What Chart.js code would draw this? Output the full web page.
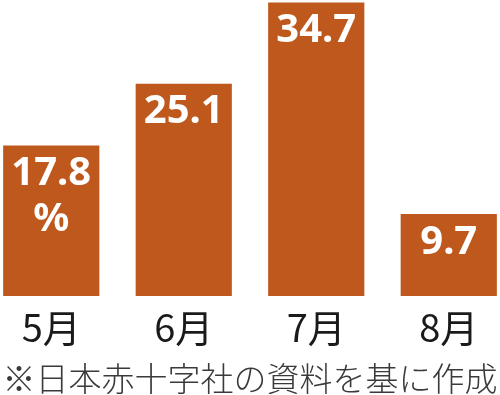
<!DOCTYPE html>
<html lang="ja">
<head>
<meta charset="utf-8">
<title>献血 推移</title>
<script src="https://cdn.jsdelivr.net/npm/chart.js@4"></script>
<style>
  html, body { margin: 0; padding: 0; background: #fff; }
  #wrap { width: 500px; height: 395px; position: relative; overflow: hidden; }
  /* 棒を端まで寄せるため少し広く描いて左右をはみ出させる */
  #inner { position: absolute; left: -15px; top: 0; width: 530px; height: 395px; }
</style>
</head>
<body>
<div id="wrap"><div id="inner"><canvas id="chartMonth"></canvas></div></div>
<script>
/* ── データ ── */
const months = ['5月', '6月', '7月', '8月'];
const rates = [17.8, 25.1, 34.7, 9.7];
const rateLabels = [['17.8', '%'], ['25.1'], ['34.7'], ['9.7']];
const sourceNote = '※日本赤十字社の資料を基に作成';

const BAR_COLOR = '#BF581C';
const LABEL_SIZE = 40;

/* ── 棒の中に数値を白で描く ── */
const innerLabels = {
  id: 'innerLabels',
  afterDatasetsDraw(chart) {
    const ctx = chart.ctx;
    const meta = chart.getDatasetMeta(0);
    ctx.save();
    ctx.fillStyle = '#fff';
    ctx.font = `bold ${LABEL_SIZE}px "Noto Sans", sans-serif`;
    ctx.textAlign = 'center';
    ctx.textBaseline = 'alphabetic';
    meta.data.forEach((bar, i) => {
      rateLabels[i].forEach((line, j) => {
        const y = bar.y + 11 + LABEL_SIZE * 0.714 + j * 46;
        ctx.fillText(line, bar.x, y);
      });
    });
    ctx.restore();
  }
};

const el = document.getElementById('chartMonth');
new Chart(el, {
  type: 'bar',
  data: {
    labels: months,
    datasets: [{
      data: rates,
      backgroundColor: BAR_COLOR,
      borderWidth: 0,
      barPercentage: 0.726,
      categoryPercentage: 1,
    }],
  },
  options: {
    responsive: true,
    maintainAspectRatio: false,
    animation: false,
    layout: { padding: 0 },
    plugins: { legend: { display: false }, tooltip: { enabled: false } },
    scales: {
      y: { display: false, min: 0, max: 35 },
      x: {
        grid: { display: false, drawTicks: false },
        border: { display: false },
        ticks: {
          color: '#1a1a1a',
          padding: 13,
          maxRotation: 0,
          font: { family: '"Noto Sans CJK JP", sans-serif', size: 38, lineHeight: 1 },
        },
        title: {
          display: true,
          text: sourceNote,
          color: '#3a3a3a',
          padding: { top: 2, bottom: 0 },
          font: { family: '"Noto Sans CJK JP", sans-serif', size: 33, weight: 300, lineHeight: 1 },
        },
      },
    },
  },
  plugins: [innerLabels],
});
</script>
</body>
</html>
